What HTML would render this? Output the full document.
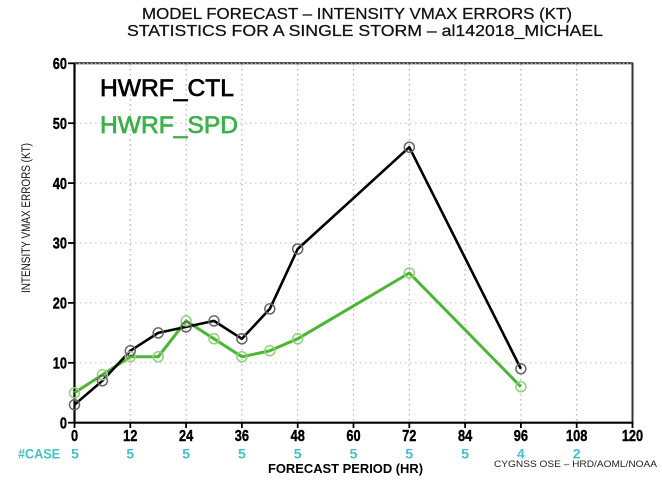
<!DOCTYPE html>
<html><head><meta charset="utf-8"><style>
html,body{margin:0;padding:0;background:#fff;}
svg{display:block;}
</style></head><body>
<svg width="662" height="483" viewBox="0 0 662 483" xmlns="http://www.w3.org/2000/svg" font-family="Liberation Sans, Arial, sans-serif">
<rect width="662" height="483" fill="#fff"/>
<!-- title -->
<text x="142" y="19" font-size="16" textLength="430" lengthAdjust="spacingAndGlyphs" fill="#111" stroke="#111" stroke-width="0.25">MODEL FORECAST – INTENSITY VMAX ERRORS (KT)</text>
<text x="127" y="36" font-size="16" textLength="476" lengthAdjust="spacingAndGlyphs" fill="#111" stroke="#111" stroke-width="0.25">STATISTICS FOR A SINGLE STORM – al142018_MICHAEL</text>

<!-- grid -->
<g stroke="#b0b0b0" stroke-width="1.2" stroke-dasharray="1.5,3.5">
<line x1="130.3" y1="64" x2="130.3" y2="422"/>
<line x1="186.1" y1="64" x2="186.1" y2="422"/>
<line x1="241.9" y1="64" x2="241.9" y2="422"/>
<line x1="297.7" y1="64" x2="297.7" y2="422"/>
<line x1="353.5" y1="64" x2="353.5" y2="422"/>
<line x1="409.3" y1="64" x2="409.3" y2="422"/>
<line x1="465.1" y1="64" x2="465.1" y2="422"/>
<line x1="520.9" y1="64" x2="520.9" y2="422"/>
<line x1="576.7" y1="64" x2="576.7" y2="422"/>
</g>
<g stroke="#c8c8c8" stroke-width="1.2" stroke-dasharray="1.5,3.5">
<line x1="75" y1="362.8" x2="632" y2="362.8"/>
<line x1="75" y1="302.9" x2="632" y2="302.9"/>
<line x1="75" y1="243.0" x2="632" y2="243.0"/>
<line x1="75" y1="183.1" x2="632" y2="183.1"/>
<line x1="75" y1="123.2" x2="632" y2="123.2"/>
</g>

<!-- frame -->
<line x1="74.5" y1="63.3" x2="632.5" y2="63.3" stroke="#222" stroke-width="2"/>
<line x1="74.5" y1="63.3" x2="632.5" y2="63.3" stroke="#fff" stroke-width="0.6" stroke-dasharray="2,2"/>
<line x1="632.5" y1="62.5" x2="632.5" y2="423" stroke="#333" stroke-width="2"/>
<line x1="74.5" y1="62.5" x2="74.5" y2="423.5" stroke="#000" stroke-width="2.2"/>
<line x1="73.5" y1="422.7" x2="633.5" y2="422.7" stroke="#000" stroke-width="2.2"/>

<!-- y ticks -->
<g stroke="#000" stroke-width="1.8">
<line x1="68" y1="63.3" x2="74.5" y2="63.3"/>
<line x1="68" y1="123.2" x2="74.5" y2="123.2"/>
<line x1="68" y1="183.1" x2="74.5" y2="183.1"/>
<line x1="68" y1="243.0" x2="74.5" y2="243.0"/>
<line x1="68" y1="302.9" x2="74.5" y2="302.9"/>
<line x1="68" y1="362.8" x2="74.5" y2="362.8"/>
<line x1="68" y1="422.7" x2="74.5" y2="422.7"/>
</g>
<!-- x ticks -->
<g stroke="#000" stroke-width="1.8">
<line x1="74.5" y1="422.7" x2="74.5" y2="428"/>
<line x1="130.3" y1="422.7" x2="130.3" y2="428"/>
<line x1="186.1" y1="422.7" x2="186.1" y2="428"/>
<line x1="241.9" y1="422.7" x2="241.9" y2="428"/>
<line x1="297.7" y1="422.7" x2="297.7" y2="428"/>
<line x1="353.5" y1="422.7" x2="353.5" y2="428"/>
<line x1="409.3" y1="422.7" x2="409.3" y2="428"/>
<line x1="465.1" y1="422.7" x2="465.1" y2="428"/>
<line x1="520.9" y1="422.7" x2="520.9" y2="428"/>
<line x1="576.7" y1="422.7" x2="576.7" y2="428"/>
<line x1="632.5" y1="422.7" x2="632.5" y2="428"/>
</g>

<!-- y tick labels -->
<g font-size="16" font-weight="bold" text-anchor="end" fill="#000" stroke="#000" stroke-width="0.4">
<text x="67" y="69" transform="translate(67,0) scale(0.8,1) translate(-67,0)">60</text>
<text x="67" y="128.9" transform="translate(67,0) scale(0.8,1) translate(-67,0)">50</text>
<text x="67" y="188.8" transform="translate(67,0) scale(0.8,1) translate(-67,0)">40</text>
<text x="67" y="248.7" transform="translate(67,0) scale(0.8,1) translate(-67,0)">30</text>
<text x="67" y="308.6" transform="translate(67,0) scale(0.8,1) translate(-67,0)">20</text>
<text x="67" y="368.5" transform="translate(67,0) scale(0.8,1) translate(-67,0)">10</text>
<text x="67" y="428.4" transform="translate(67,0) scale(0.8,1) translate(-67,0)">0</text>
</g>

<!-- x tick labels -->
<g font-size="16" font-weight="bold" text-anchor="middle" fill="#000" stroke="#000" stroke-width="0.4">
<text x="74.5" y="441" transform="translate(74.5,0) scale(0.8,1) translate(-74.5,0)">0</text>
<text x="130.3" y="441" transform="translate(130.3,0) scale(0.8,1) translate(-130.3,0)">12</text>
<text x="186.1" y="441" transform="translate(186.1,0) scale(0.8,1) translate(-186.1,0)">24</text>
<text x="241.9" y="441" transform="translate(241.9,0) scale(0.8,1) translate(-241.9,0)">36</text>
<text x="297.7" y="441" transform="translate(297.7,0) scale(0.8,1) translate(-297.7,0)">48</text>
<text x="353.5" y="441" transform="translate(353.5,0) scale(0.8,1) translate(-353.5,0)">60</text>
<text x="409.3" y="441" transform="translate(409.3,0) scale(0.8,1) translate(-409.3,0)">72</text>
<text x="465.1" y="441" transform="translate(465.1,0) scale(0.8,1) translate(-465.1,0)">84</text>
<text x="520.9" y="441" transform="translate(520.9,0) scale(0.8,1) translate(-520.9,0)">96</text>
<text x="576.7" y="441" transform="translate(576.7,0) scale(0.8,1) translate(-576.7,0)">108</text>
<text x="632.5" y="441" transform="translate(632.5,0) scale(0.8,1) translate(-632.5,0)">120</text>
</g>

<!-- case counts -->
<g font-size="14" font-weight="bold" fill="#45c0c8" text-anchor="middle">
<text x="18" y="458.5" text-anchor="start" textLength="42" lengthAdjust="spacingAndGlyphs">#CASE</text>
<text x="75" y="458.5">5</text>
<text x="130.3" y="458.5">5</text>
<text x="186.1" y="458.5">5</text>
<text x="241.9" y="458.5">5</text>
<text x="297.7" y="458.5">5</text>
<text x="353.5" y="458.5">5</text>
<text x="409.3" y="458.5">5</text>
<text x="465.1" y="458.5">5</text>
<text x="520.9" y="458.5">4</text>
<text x="576.7" y="458.5">2</text>
</g>

<!-- axis titles -->
<text x="268" y="473" font-size="13" font-weight="bold" textLength="155" lengthAdjust="spacingAndGlyphs" fill="#000">FORECAST PERIOD (HR)</text>
<text x="494" y="467" font-size="9.5" textLength="163" lengthAdjust="spacingAndGlyphs" fill="#222">CYGNSS OSE – HRD/AOML/NOAA</text>
<text transform="translate(30,218) rotate(-90)" text-anchor="middle" font-size="11.5" textLength="150" lengthAdjust="spacingAndGlyphs" fill="#111">INTENSITY VMAX ERRORS (KT)</text>

<!-- legend -->
<text x="100" y="96" font-size="24" textLength="134" lengthAdjust="spacingAndGlyphs" fill="#000" stroke="#000" stroke-width="0.7">HWRF_CTL</text>
<text x="100" y="133" font-size="24" textLength="138" lengthAdjust="spacingAndGlyphs" fill="#3cb04a" stroke="#3cb04a" stroke-width="0.7">HWRF_SPD</text>

<!-- SPD series -->
<polyline fill="none" stroke="#4cb535" stroke-width="3" stroke-linejoin="round"
 points="74.5,392.8 102.4,374.8 130.3,356.8 158.2,356.8 186.1,320.9 214,338.8 241.9,356.8 269.8,350.8 297.7,338.8 409.3,273.0 520.9,386.8"/>
<!-- CTL series -->
<polyline fill="none" stroke="#000" stroke-width="2.6" stroke-linejoin="round"
 points="74.5,404.7 102.4,380.8 130.3,350.8 158.2,332.9 186.1,326.9 214,320.9 241.9,338.8 269.8,308.9 297.7,249.0 409.3,147.2 520.9,368.8"/>

<!-- SPD markers -->
<g fill="none" stroke="#8ed27a" stroke-width="1.5">
<circle cx="74.5" cy="392.8" r="5"/><circle cx="102.4" cy="374.8" r="5"/><circle cx="130.3" cy="356.8" r="5"/>
<circle cx="158.2" cy="356.8" r="5"/><circle cx="186.1" cy="320.9" r="5"/><circle cx="214" cy="338.8" r="5"/>
<circle cx="241.9" cy="356.8" r="5"/><circle cx="269.8" cy="350.8" r="5"/><circle cx="297.7" cy="338.8" r="5"/>
<circle cx="409.3" cy="273.0" r="5"/><circle cx="520.9" cy="386.8" r="5"/>
</g>
<!-- CTL markers -->
<g fill="none" stroke="#666" stroke-width="1.5">
<circle cx="74.5" cy="404.7" r="5"/><circle cx="102.4" cy="380.8" r="5"/><circle cx="130.3" cy="350.8" r="5"/>
<circle cx="158.2" cy="332.9" r="5"/><circle cx="186.1" cy="326.9" r="5"/><circle cx="214" cy="320.9" r="5"/>
<circle cx="241.9" cy="338.8" r="5"/><circle cx="269.8" cy="308.9" r="5"/><circle cx="297.7" cy="249.0" r="5"/>
<circle cx="409.3" cy="147.2" r="5"/><circle cx="520.9" cy="368.8" r="5"/>
</g>
</svg>
</body></html>
